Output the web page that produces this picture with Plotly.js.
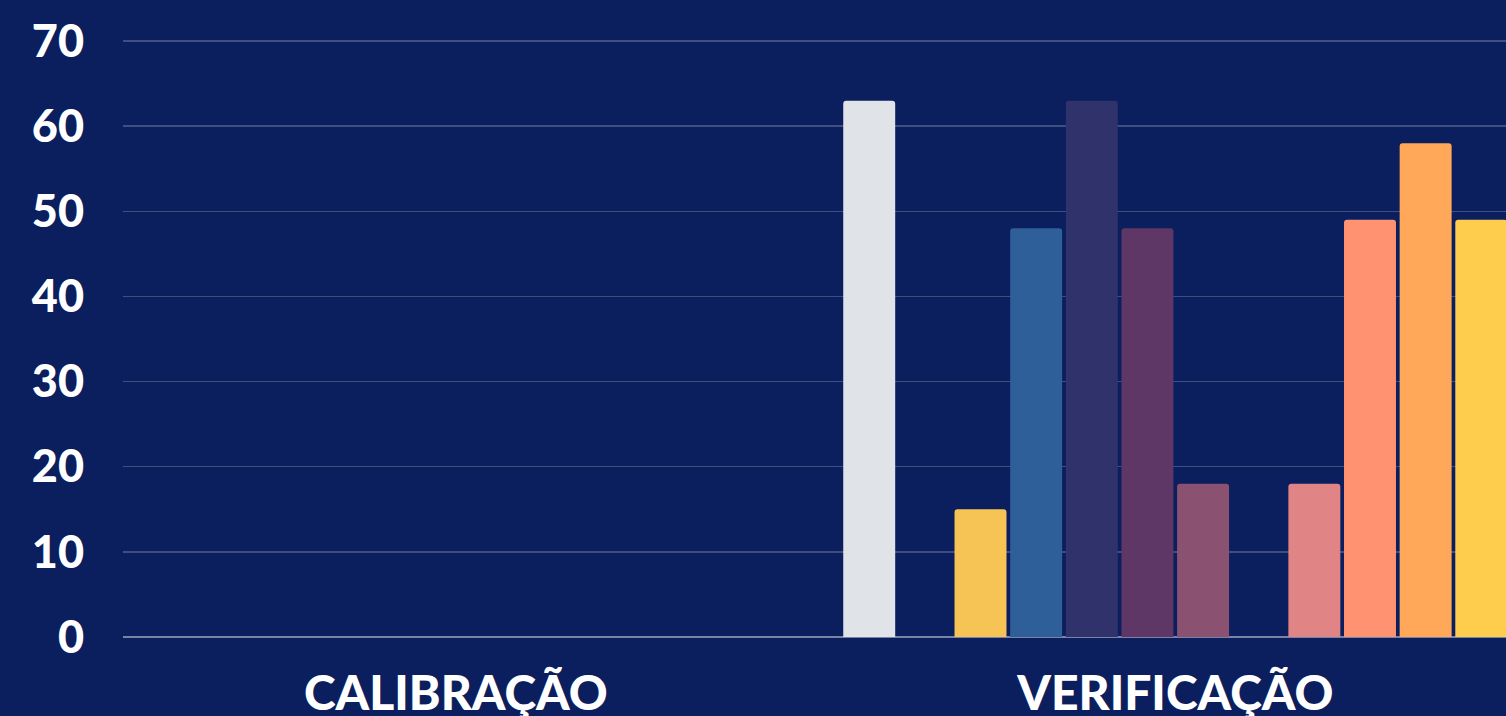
<!DOCTYPE html>
<html>
<head>
<meta charset="utf-8">
<script src="https://cdn.plot.ly/plotly-3.0.1.min.js"></script>
<style>
  html, body { margin: 0; padding: 0; background: #0b1e5d; }
  #chart { width: 1506px; height: 716px; }
</style>
</head>
<body>
<div id="chart"></div>
<script>
// Categories on the x axis
const categories = ["CALIBRAÇÃO", "VERIFICAÇÃO"];

// One series per bar within each group (names are not shown in the picture)
const seriesNames = ["Série 1", "Série 2", "Série 3", "Série 4", "Série 5", "Série 6",
                     "Série 7", "Série 8", "Série 9", "Série 10", "Série 11", "Série 12"];

// Values for CALIBRAÇÃO (no bars visible)
const calibracaoValues = [0, 0, 0, 0, 0, 0, 0, 0, 0, 0, 0, 0];
// Values for VERIFICAÇÃO
const verificacaoValues = [63, 0, 15, 48, 63, 48, 18, 0, 18, 49, 58, 49];

// Series colours
const seriesColors = ["#e0e3e8", "#8fa3c8", "#f6c454", "#2f5f98", "#30336b", "#5e3766",
                      "#8a5270", "#b8697a", "#e08485", "#ff9271", "#ffa85a", "#ffcd4d"];

// Y axis ticks
const yTickValues = [0, 10, 20, 30, 40, 50, 60, 70];

const traces = seriesNames.map((name, i) => ({
  type: "bar",
  name: name,
  x: categories,
  y: [calibracaoValues[i], verificacaoValues[i]],
  marker: { color: seriesColors[i], line: { width: 0 } },
  hoverinfo: "x+y+name"
}));

const layout = {
  width: 1506,
  height: 716,
  paper_bgcolor: "#0b1e5d",
  plot_bgcolor: "#0b1e5d",
  showlegend: false,
  barmode: "group",
  bargap: 0.072,
  bargroupgap: 0.066,
  barcornerradius: 3,
  margin: { l: 123, r: 0, t: 20, b: 79, pad: 0 },
  font: { family: "Lato, 'Open Sans', sans-serif", color: "#ffffff" },
  xaxis: {
    type: "category",
    range: [-0.4625, 1.4597],
    showgrid: false,
    zeroline: false,
    showline: false,
    ticks: "",
    ticklabelstandoff: 24,
    tickfont: { family: "Lato, sans-serif", size: 48, color: "#ffffff", weight: 900 }
  },
  yaxis: {
    range: [0, 72.47],
    tickvals: yTickValues,
    ticktext: yTickValues.map(String),
    showgrid: true,
    gridcolor: "rgba(255,255,255,0.22)",
    gridwidth: 1.5,
    zeroline: true,
    zerolinecolor: "rgba(255,255,255,0.45)",
    zerolinewidth: 1.5,
    showline: false,
    ticks: "",
    ticklabelstandoff: 38,
    tickfont: { family: "Lato, sans-serif", size: 45, color: "#ffffff", weight: 900 }
  }
};

Plotly.newPlot("chart", traces, layout, { displayModeBar: false, staticPlot: true });
</script>
</body>
</html>
